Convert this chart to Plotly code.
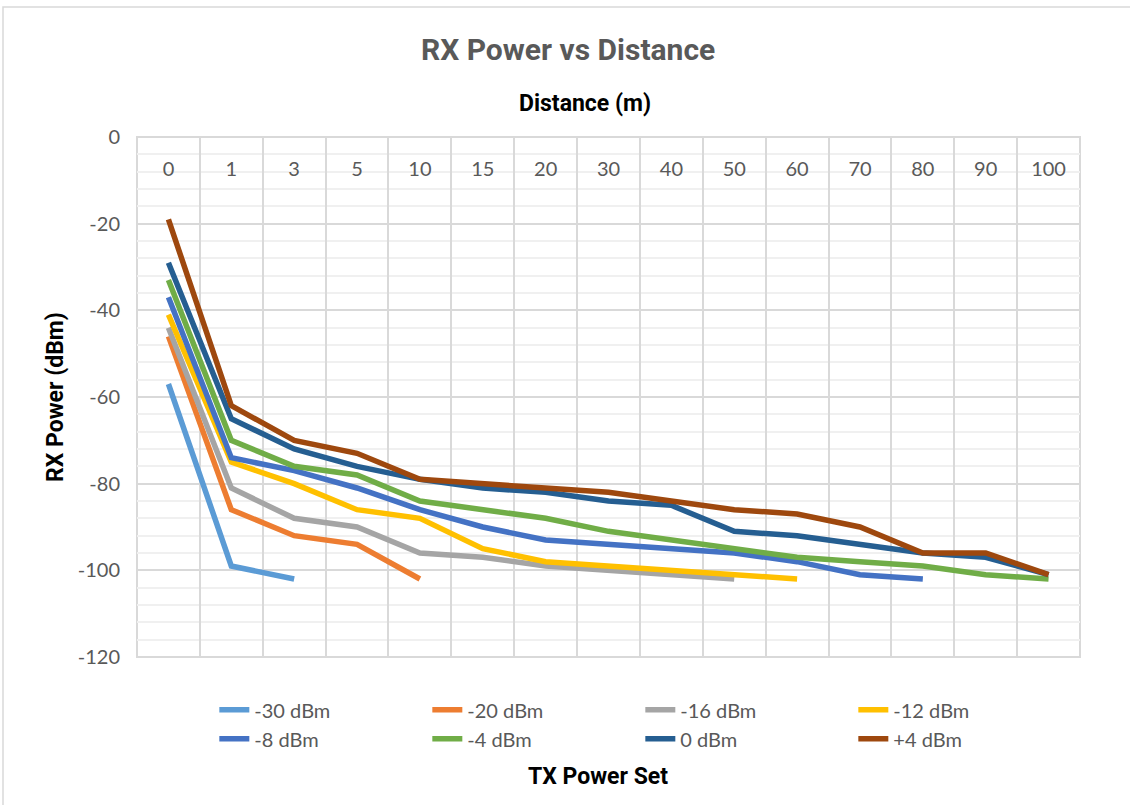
import plotly.graph_objects as go

distances = ["0", "1", "3", "5", "10", "15", "20", "30", "40", "50", "60", "70", "80", "90", "100"]

tx_m30 = [-57, -99, -102]
tx_m20 = [-46, -86, -92, -94, -102]
tx_m16 = [-44, -81, -88, -90, -96, -97, -99, -100, -101, -102]
tx_m12 = [-41, -75, -80, -86, -88, -95, -98, -99, -100, -101, -102]
tx_m8 = [-37, -74, -77, -81, -86, -90, -93, -94, -95, -96, -98, -101, -102]
tx_m4 = [-33, -70, -76, -78, -84, -86, -88, -91, -93, -95, -97, -98, -99, -101, -102]
tx_0 = [-29, -65, -72, -76, -79, -81, -82, -84, -85, -91, -92, -94, -96, -97, -101]
tx_p4 = [-19, -62, -70, -73, -79, -80, -81, -82, -84, -86, -87, -90, -96, -96, -101]

series_names = ["-30 dBm", "-20 dBm", "-16 dBm", "-12 dBm", "-8 dBm", "-4 dBm", "0 dBm", "+4 dBm"]
series_values = [tx_m30, tx_m20, tx_m16, tx_m12, tx_m8, tx_m4, tx_0, tx_p4]
colors = ["#5B9BD5", "#ED7D31", "#A5A5A5", "#FFC000", "#4472C4", "#70AD47", "#255E91", "#9E480E"]

y_tickvals = [-120, -100, -80, -60, -40, -20, 0]
y_ticktext = ["-120", "-100", "-80", "-60", "-40", "-20", "0"]

fig = go.Figure()
for name, vals, col in zip(series_names, series_values, colors):
    fig.add_trace(go.Scatter(
        x=distances[:len(vals)], y=vals, name=name, mode="lines",
        line=dict(color=col, width=5.5),
    ))

cond = "Roboto, Open Sans, sans-serif"
body = "Lato, Open Sans, sans-serif"

# plot area target: x 137-1080, y 137-657 (943 x 520)
fig.update_layout(
    width=1130, height=805,
    margin=dict(l=137, r=50, t=137, b=148),
    paper_bgcolor="white", plot_bgcolor="white",
    showlegend=True,
    legend=dict(
        orientation="h", x=0.082, xanchor="left", y=-0.064, yanchor="top",
        font=dict(family=body, size=20, color="#595959"),
        entrywidth=168, entrywidthmode="pixels", tracegroupgap=0,
    ),
    xaxis=dict(
        type="category", categoryorder="array", categoryarray=distances,
        range=[-0.5, 14.5], side="bottom", anchor="free", position=0.966,
        ticks="", tickson="boundaries",
        tickfont=dict(family=body, size=20, color="#595959"),
        showgrid=True, gridcolor="#d9d9d9", gridwidth=2,
        showline=False, zeroline=False,
    ),
    yaxis=dict(
        range=[-120, 0], tickvals=y_tickvals, ticktext=y_ticktext,
        tickfont=dict(family=body, size=20, color="#595959"),
        ticklabelstandoff=16,
        showgrid=True, gridcolor="#d9d9d9", gridwidth=2,
        minor=dict(dtick=4, tick0=0, showgrid=True, gridcolor="#f0f0f0", gridwidth=1.5),
        showline=False, zeroline=False,
    ),
    annotations=[
        dict(text="<b>RX Power vs Distance</b>", xref="paper", yref="paper",
             x=(568 - 137) / 943, y=(657 - 50) / 520, xanchor="center", yanchor="middle", showarrow=False,
             font=dict(family=cond, size=30, color="#595959")),
        dict(text="<b>Distance (m)</b>", xref="paper", yref="paper",
             x=(585 - 137) / 943, y=(657 - 103) / 520, xanchor="center", yanchor="middle", showarrow=False,
             font=dict(family=cond, size=23, color="black")),
        dict(text="<b>RX Power (dBm)</b>", xref="paper", yref="paper", textangle=-90,
             x=(55 - 137) / 943, y=(657 - 397) / 520, xanchor="center", yanchor="middle", showarrow=False,
             font=dict(family=cond, size=23, color="black")),
        dict(text="<b>TX Power Set</b>", xref="paper", yref="paper",
             x=(598 - 137) / 943, y=(657 - 776) / 520, xanchor="center", yanchor="middle", showarrow=False,
             font=dict(family=cond, size=23, color="black")),
    ],
    shapes=[
        dict(type="rect", xref="paper", yref="paper", x0=0, x1=1, y0=0, y1=1,
             line=dict(color="#d9d9d9", width=2), fillcolor="rgba(0,0,0,0)", layer="below"),
        dict(type="rect", xref="paper", yref="paper",
             x0=(3 - 137) / 943, x1=(1140 - 137) / 943,
             y0=(657 - 815) / 520, y1=(657 - 7) / 520,
             line=dict(color="#d9d9d9", width=1.5), fillcolor="rgba(0,0,0,0)", layer="below"),
    ],
)

fig.write_html("out.html", config={"displayModeBar": False},
               post_script="document.body.style.margin='0px';")
